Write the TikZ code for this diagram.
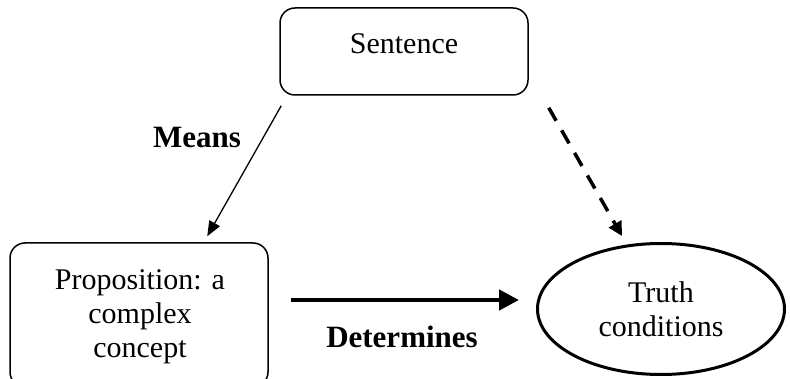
\documentclass[tikz,border=0pt]{standalone}
\usepackage{fontspec}
\setmainfont{Liberation Serif}
\usetikzlibrary{arrows.meta,shapes.geometric}
\begin{document}
\begin{tikzpicture}[x=1pt,y=-1pt,
  txt/.style={font=\fontsize{30}{34}\selectfont, align=center},
  lbl/.style={font=\fontsize{31}{34}\selectfont\bfseries, inner sep=0pt},
  rbox/.style={draw, line width=1.5pt, rounded corners=15pt, txt, inner sep=0pt},
  ell/.style={draw, ellipse, line width=3pt, txt, inner sep=0pt}]
\useasboundingbox (0,0) rectangle (790,379);
\begin{scope}
\clip (0,0) rectangle (790,379);
\node[rbox, minimum width=248pt, minimum height=87pt] (sent) at (404,51.5) {};
\node[txt] at (404,44) {Sentence};
\node[rbox, minimum width=258pt, minimum height=144pt] (prop) at (139,315) {};
\node[txt] (proptxt) at (140,317) {Proposition: a\\complex\\concept};
\node[ell, minimum width=247pt, minimum height=131pt] (truth) at (661,309) {};
\node[txt] at (661,309) {Truth\\conditions};
\end{scope}
\draw[line width=1.3pt, -{Triangle[length=15pt,width=12pt]}]
  ([shift={(2,10)}]sent.south west) -- ([shift={(198,-6)}]prop.north west);
\draw[line width=3.5pt, dash pattern=on 15pt off 11pt, -{Triangle[length=14pt,width=14pt]}]
  ([shift={(20,12)}]sent.south east) -- ([shift={(-39,-6)}]truth.north);
\draw[line width=4.5pt, -{Triangle[length=20pt,width=20pt]}]
  ([shift={(22,-15)}]prop.east) -- ([shift={(-17,-9)}]truth.west);
\node[lbl] (means) at (197,138) {Means};
\node[lbl] (det) at (402,337) {Determines};
\end{tikzpicture}
\end{document}
